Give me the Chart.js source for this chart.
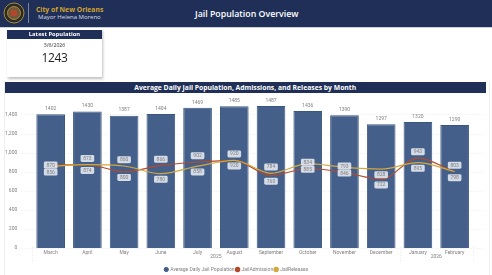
<!DOCTYPE html>
<html>
<head>
<meta charset="utf-8">
<script src="https://cdn.jsdelivr.net/npm/chart.js@4"></script>
<style>
html,body{margin:0;padding:0;background:#fff;width:492px;height:275px;overflow:hidden;font-family:"Open Sans",sans-serif}
#wrap{position:relative;width:492px;height:275px}
canvas{position:absolute;left:0;top:0}
.abs{position:absolute;white-space:nowrap}
#head{left:0;top:0;width:492px;height:27px;background:#1f2f57;border-bottom:1px solid #c9d0de;box-sizing:content-box}
#card{left:7px;top:29px;width:95px;height:48px;background:#fff;box-shadow:1px 1.5px 2.5px rgba(0,0,0,.25)}
#cardT{left:0;top:1px;width:95px;height:9px;background:#1f2f57;color:#fff;font-weight:700;font-size:5.8px;line-height:9px;text-align:center}
#band{left:4.5px;top:81.5px;width:481.5px;height:11px;background:#1f2f57;color:#fff;font-weight:700;font-size:6.8px;line-height:11px;text-align:center}
#panel{left:3.5px;top:81px;width:484px;height:194px;border-left:1px solid #eee;border-right:1px solid #eee}
</style>
</head>
<body>
<div id="wrap">
<div class="abs" id="panel"></div>
<canvas id="c" width="492" height="275"></canvas>
<div class="abs" id="head"></div>
<svg class="abs" style="left:3px;top:2px" width="22" height="22" viewBox="0 0 22 22">
<circle cx="11" cy="11" r="10" fill="#2a2a2a" stroke="#a88a3c" stroke-width="1"/>
<circle cx="11" cy="11" r="6.5" fill="#6d5a3a" stroke="#c29a3a" stroke-width=".8"/>
<rect x="8" y="8" width="6" height="6" fill="#b5452c"/>
</svg>
<div class="abs" style="left:27.5px;top:3px;width:.6px;height:20px;background:#7c879f"></div>
<div class="abs" style="left:36px;top:5px;color:#d3a32e;font-weight:700;font-size:6.8px;line-height:10px">City of New Orleans</div>
<div class="abs" style="left:38px;top:12.5px;color:#d9dce3;font-size:6px;line-height:9px">Mayor Helena Moreno</div>
<div class="abs" style="left:195px;top:6.5px;color:#fff;font-weight:600;font-size:8.8px;line-height:14px">Jail Population Overview</div>
<div class="abs" id="card">
  <div class="abs" id="cardT">Latest Population</div>
  <div class="abs" style="left:0;width:95px;top:12px;text-align:center;font-size:5.2px;line-height:8px;color:#333">3/6/2026</div>
  <div class="abs" style="left:0;width:95px;top:20px;text-align:center;font-size:12px;letter-spacing:-.3px;line-height:17px;color:#222">1243</div>
</div>
<div class="abs" id="band">Average Daily Jail Population, Admissions, and Releases by Month</div>
</div>
<script>
const months = ["March","April","May","June","July","August","September","October","November","December","January","February"];
const population = [1402,1430,1387,1404,1469,1485,1487,1436,1390,1297,1320,1290];
const admissions = [870,873,800,866,902,920,760,834,793,722,943,798];
const releases = [856,874,860,780,858,920,784,885,846,828,895,803];
const yTicks = [0,200,400,600,800,1000,1200,1400];
const years = ["2025","2026"];
// label side relative to the line: -1 above, 1 below, 0 on the line
const admissionSide = [0,-1,1,-1,-1,-1,1,-1,-1,1,-1,1];
const releaseSide = [1,1,-1,1,1,1,-1,1,1,1,1,-1];

const FONT = 'Roboto, sans-serif';
const TEXT = '#808080';

const annotate = {
  id:'annotate',
  beforeDatasetsDraw(chart){
    const {ctx, scales:{y}} = chart;
    ctx.save();
    ctx.strokeStyle='#e2e2e2'; ctx.lineWidth=.6; ctx.setLineDash([1,1.6]);
    yTicks.forEach(v=>{
      const p=Math.round(y.getPixelForValue(v))+.5;
      ctx.beginPath(); ctx.moveTo(21.5,p); ctx.lineTo(484,p); ctx.stroke();
    });
    const x=chart.scales.x, step=x.getPixelForValue(1)-x.getPixelForValue(0);
    ctx.strokeStyle='#dcdcdc';
    [0,10,12].forEach(i=>{
      const px=Math.round(x.getPixelForValue(0)+step*(i-.5))+.5;
      ctx.beginPath(); ctx.moveTo(px,247); ctx.lineTo(px,261); ctx.stroke();
    });
    ctx.restore();
  },
  afterDatasetsDraw(chart){
    const {ctx, scales:{x,y}} = chart;
    ctx.save();
    ctx.textAlign='center'; ctx.textBaseline='middle';
    ctx.font='5px '+FONT; ctx.fillStyle=TEXT;
    population.forEach((v,i)=>ctx.fillText(String(v),x.getPixelForValue(i),y.getPixelForValue(v)-5.5));
    const chip=(v,i,side)=>{
      const cx=x.getPixelForValue(i);
      const cy=y.getPixelForValue(v)+(side<0?-6.3:side>0?5.7:0);
      ctx.beginPath(); ctx.roundRect(cx-6.8,cy-3.5,13.6,7,1.4);
      ctx.fillStyle='rgba(226,230,238,.92)'; ctx.fill();
      ctx.fillStyle=TEXT; ctx.fillText(String(v),cx,cy+.2);
    };
    admissions.forEach((v,i)=>chip(v,i,admissionSide[i]));
    releases.forEach((v,i)=>chip(v,i,releaseSide[i]));
    ctx.fillStyle=TEXT;
    ctx.fillText(years[0],x.getPixelForValue(4.5),257);
    ctx.fillText(years[1],x.getPixelForValue(10.5),257);
    ctx.restore();
  }
};

new Chart(document.getElementById('c'),{
  data:{
    labels:months,
    datasets:[
      {type:'bar',label:'Average Daily Jail Population',data:population,backgroundColor:'#44608a',borderColor:'#3a5582',borderWidth:1,order:3,categoryPercentage:.78,barPercentage:1},
      {type:'line',label:'JailAdmission',data:admissions,borderColor:'#b5492a',backgroundColor:'#b5492a',borderWidth:1.2,pointRadius:0,cubicInterpolationMode:'monotone',order:2},
      {type:'line',label:'JailReleases',data:releases,borderColor:'#d3a83c',backgroundColor:'#d3a83c',borderWidth:1.2,pointRadius:0,cubicInterpolationMode:'monotone',order:1}
    ]
  },
  options:{
    responsive:false,animation:false,
    layout:{padding:{left:0,right:19,top:95.3,bottom:-7}},
    plugins:{
      tooltip:{enabled:false},
      legend:{position:'bottom',labels:{font:{size:5,family:FONT},color:TEXT,usePointStyle:true,pointStyle:'circle',boxWidth:3,boxHeight:3,padding:1.5,sort:(a,b)=>a.datasetIndex-b.datasetIndex}}
    },
    scales:{
      x:{grid:{display:false,drawTicks:false},border:{display:false},afterFit(s){s.height=17.3;},
         ticks:{font:{size:5,family:FONT},color:TEXT,padding:2,maxRotation:0,autoSkip:false}},
      y:{min:0,max:1600,afterFit(s){s.width=32.3;},grid:{display:false,drawTicks:false},border:{display:false},
         afterBuildTicks(s){s.ticks=yTicks.map(v=>({value:v}));},
         ticks:{font:{size:5,family:FONT},color:TEXT,padding:15,callback:v=>v.toLocaleString('en-US')}}
    }
  },
  plugins:[annotate]
});
</script>
</body>
</html>
